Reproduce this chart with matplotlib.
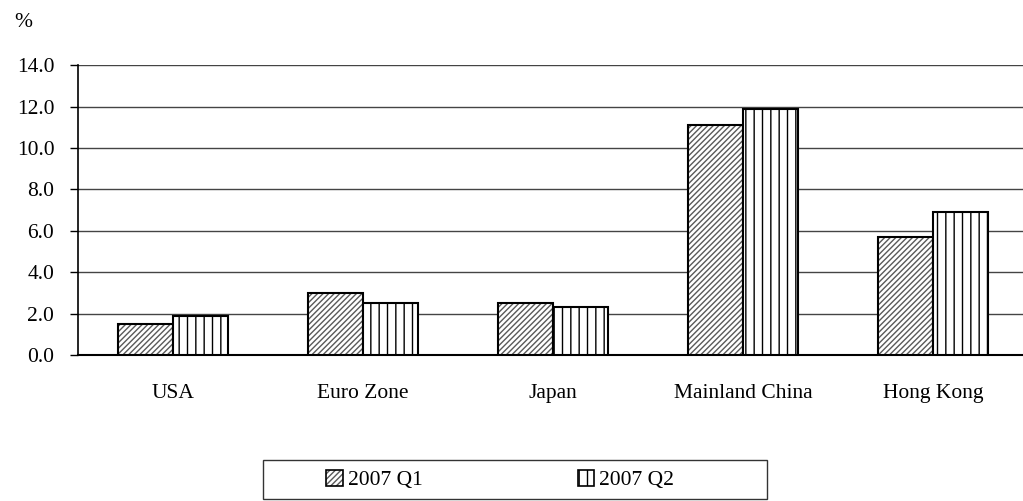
import matplotlib.pyplot as plt
from matplotlib.patches import Rectangle
import numpy as np

plt.rcParams['font.family'] = ['Liberation Serif', 'DejaVu Serif']
plt.rcParams['hatch.linewidth'] = 1.0

categories = ["USA", "Euro Zone", "Japan", "Mainland China", "Hong Kong"]
q1 = [1.5, 3.0, 2.5, 11.1, 5.7]
q2 = [1.9, 2.5, 2.3, 11.9, 6.9]
series_labels = ["2007 Q1", "2007 Q2"]
yticks = [0, 2, 4, 6, 8, 10, 12, 14]

fs = 15.5

fig = plt.figure(figsize=(10.23, 5.01), dpi=100)
ax = fig.add_axes([0.0762, 0.2914, 0.9287, 0.5786])

x = np.arange(len(categories))
w = 0.289
b1 = ax.bar(x - w / 2, q1, w, facecolor='white', edgecolor='black',
            hatch='//////', linewidth=1.5, label=series_labels[0], zorder=3)
b2 = ax.bar(x + w / 2, q2, w, facecolor='white', edgecolor='black',
            hatch='||', linewidth=1.5, label=series_labels[1], zorder=3)
for p in b1:
    p._hatch_color = (0.35, 0.35, 0.35, 1.0)
for p in b2:
    p._hatch_color = (0.0, 0.0, 0.0, 1.0)

ax.set_xlim(-0.5, len(categories) - 0.5)
ax.set_ylim(0, 14)
ax.set_yticks(yticks)
ax.set_yticklabels([f"{v:.1f}" for v in yticks], fontsize=fs)
ax.set_xticks(x)
ax.set_xticklabels(categories, fontsize=fs)
ax.tick_params(axis='x', length=0, pad=21)
ax.tick_params(axis='y', length=6, width=1, direction='out', pad=11)
ax.yaxis.grid(True, color='#444444', linewidth=1)
ax.set_axisbelow(True)
for s in ['top', 'right']:
    ax.spines[s].set_visible(False)
ax.spines['left'].set_linewidth(1.2)
ax.spines['bottom'].set_linewidth(1.5)

fig.text(0.023, 0.955, "%", fontsize=fs, ha='center', va='center')

# legend box drawn separately so the padding can be wider than tall
fig.patches.append(Rectangle((0.257, 0.003), 0.4927, 0.0798, transform=fig.transFigure,
                             facecolor='none', edgecolor='#333333', linewidth=1.0))
leg = fig.legend(handles=[b1, b2], labels=series_labels, loc='center',
                 bbox_to_anchor=(0.489, 0.042), ncol=2, fontsize=fs,
                 frameon=False, columnspacing=7.2, handlelength=0.75,
                 handleheight=0.75, handletextpad=0.25)
for h in leg.legend_handles:
    h.set_linewidth(1.2)

fig.savefig("out.png", dpi=100)
